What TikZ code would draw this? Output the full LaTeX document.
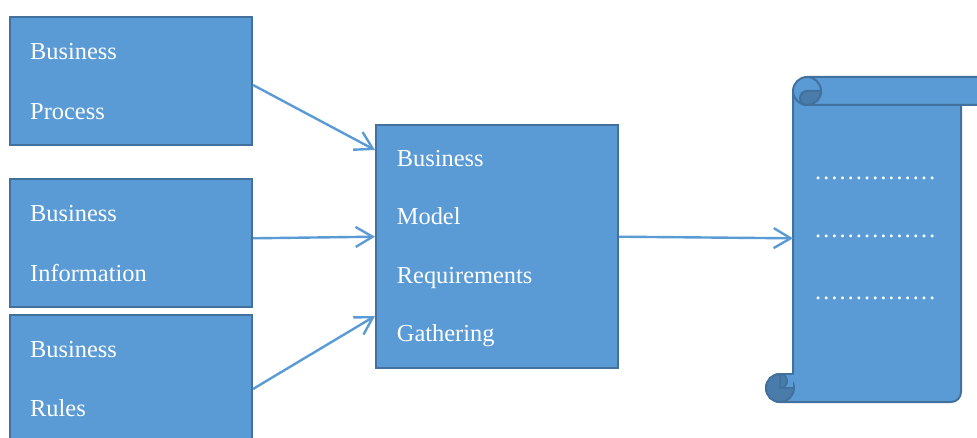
\documentclass[tikz,border=0pt]{standalone}
\usepackage{fontspec}
\setmainfont{Liberation Serif}
\newfontfamily\tnr{Liberation Serif}
\usetikzlibrary{arrows.meta,calc}
\definecolor{boxfill}{RGB}{91,155,213}
\definecolor{boxdraw}{RGB}{65,113,156}
\definecolor{curldark}{RGB}{73,124,170}
\tikzset{
  bluebox/.style={draw=boxdraw, fill=boxfill, line width=2pt, minimum width=242pt, inner sep=0pt},
  lbl/.style={anchor=base west, inner sep=0pt, text=white, font=\tnr\fontsize{24.4pt}{29pt}\selectfont},
  dotlbl/.style={anchor=base west, inner sep=0pt, text=white, font=\tnr\fontsize{24.4pt}{29pt}\selectfont},
  arr/.style={draw=boxfill, line width=2.4pt, -{Straight Barb[length=17pt,width=20pt]}},
  scrollpart/.style={draw=boxdraw, line width=2pt, line join=round},
}
\begin{document}
\begin{tikzpicture}[x=1pt,y=1pt]
\useasboundingbox (0,0) rectangle (977,437);
% left boxes
\node[bluebox, minimum height=128pt] (bp) at (131,356) {};
\node[bluebox, minimum height=128pt] (bi) at (131,194) {};
\node[bluebox, minimum height=128pt] (br) at (131,58) {};
% center box
\node[bluebox, minimum height=243pt] (bm) at (497,190.5) {};
% texts
\node[lbl] (t1a) at (30,377) {Business};
\node[lbl] (t1b) at (30,317.5) {Process};
\node[lbl] (t2a) at (30,215.3) {Business};
\node[lbl] (t2b) at (30,156) {Information};
\node[lbl] (t3a) at (30,79.7) {Business};
\node[lbl] (t3b) at (30,20.3) {Rules};
\node[lbl] (tma) at (396.7,270.3) {Business};
\node[lbl] (tmb) at (396.7,212) {Model};
\node[lbl] (tmc) at (396.7,153.7) {Requirements};
\node[lbl] (tmd) at (396.7,95.3) {Gathering};
% scroll
\path[scrollpart, fill=boxfill] (793,346) -- (793,63) -- (780,63)
  arc[start angle=90, end angle=270, radius=14] -- (951,35)
  arc[start angle=270, end angle=360, radius=10] -- (961,346) -- cycle;
\path[scrollpart, fill=boxfill] (807,360) -- (980,360)
  arc[start angle=90, end angle=-90, radius=14] -- (807,332) -- cycle;
\path[scrollpart, fill=boxfill] (807,346) circle[radius=14];
\path[scrollpart, fill=curldark] (807,346) -- (821,346)
  arc[start angle=0, end angle=-90, radius=14]
  arc[start angle=270, end angle=90, radius=7] -- cycle;
% bottom curl
\path[scrollpart, fill=curldark] (780,49) circle[radius=14];
\path[fill=boxfill] (780,49) rectangle (793,63);
\path[scrollpart, fill=curldark] (780,63) arc[start angle=90, end angle=-90, radius=7] -- cycle;
\draw[scrollpart] (780,63) -- (793,63);
\draw[scrollpart] (780,49) -- (793,49);
\coordinate (scrollin) at (793,198.7);
% dots
\node[dotlbl] (d1) at (814,257.5) {……………};
\node[dotlbl] (d2) at (814,199.5) {……………};
\node[dotlbl] (d3) at (814,137.5) {……………};
% arrows
\draw[arr] ([yshift=-4pt]bp.east) -- ([yshift=96.5pt]bm.west);
\draw[arr] ([yshift=4.7pt]bi.east) -- ([yshift=9.8pt]bm.west);
\draw[arr] ([yshift=-10pt]br.east) -- ([yshift=-69.5pt]bm.west);
\draw[arr] ([yshift=9.8pt]bm.east) -- (scrollin);
\end{tikzpicture}
\end{document}
